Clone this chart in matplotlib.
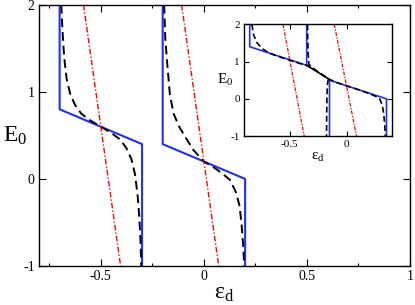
import matplotlib.pyplot as plt
from matplotlib.ticker import MultipleLocator

plt.rcParams["font.family"] = ["Liberation Serif", "DejaVu Serif"]
plt.rcParams["mathtext.fontset"] = "stix"

# main panel: sharp (blue) curves
blue1_eps = [-0.7, -0.7, -0.3, -0.3]
blue1_E = [2.0, 0.8, 0.4, -1.0]
blue2_eps = [-0.2, -0.2, 0.2, 0.2]
blue2_E = [2.0, 0.4, 0.0, -1.0]

# main panel: smooth (black dashed) curves
dash1_eps = [-0.692, -0.686, -0.678, -0.666, -0.648, -0.625, -0.595, -0.55,
             -0.5, -0.45, -0.405, -0.375, -0.352, -0.334, -0.322, -0.313,
             -0.307, -0.304]
dash1_E = [2.0, 1.7, 1.4, 1.15, 0.97, 0.85, 0.75, 0.67,
           0.6, 0.53, 0.45, 0.35, 0.23, 0.05, -0.18, -0.45,
           -0.75, -1.0]
dash2_eps = [-0.193, -0.187, -0.177, -0.165, -0.147, -0.12, -0.09, -0.05,
             0.0, 0.05, 0.09, 0.126, 0.155, 0.172, 0.182, 0.19, 0.196]
dash2_E = [2.0, 1.6, 1.3, 0.97, 0.75, 0.6, 0.48, 0.33,
           0.2, 0.13, 0.06, -0.01, -0.15, -0.3, -0.5, -0.75, -1.0]

# main panel: red dash-dot lines (end points)
red1_eps = [-0.584, -0.404]
red1_E = [2.0, -1.0]
red2_eps = [-0.108, 0.072]
red2_E = [2.0, -1.0]

# inset
in_blue1_eps = [-0.85, -0.85, -0.35, -0.35]
in_blue1_E = [2.0, 1.4, 0.9, 2.0]
in_blue2_eps = [-0.15, -0.15, 0.35, 0.35]
in_blue2_E = [-1.0, 0.5, 0.0, -1.0]

in_dashA_eps = [-0.831, -0.816, -0.787, -0.744, -0.686, -0.613, -0.5, -0.4,
                -0.35, -0.25, -0.16, -0.168, -0.172, -0.175, -0.176]
in_dashA_E = [2.0, 1.72, 1.51, 1.36, 1.24, 1.15, 1.04, 0.94,
              0.9, 0.72, 0.54, 0.4, 0.1, -0.5, -1.0]
in_dashB_eps = [-0.343, -0.341, -0.338, -0.334, -0.33, -0.25, -0.16, -0.1,
                0.0, 0.1, 0.2, 0.246, 0.29, 0.313, 0.325, 0.334, 0.34]
in_dashB_E = [2.0, 1.6, 1.3, 1.05, 0.92, 0.72, 0.54, 0.45,
              0.35, 0.25, 0.14, 0.08, 0.01, -0.17, -0.39, -0.66, -1.0]
in_mid_eps = [-0.35, -0.16]
in_mid_E = [0.9, 0.54]

in_red1_eps = [-0.558, -0.372]
in_red1_E = [2.0, -1.0]
in_red2_eps = [-0.108, 0.087]
in_red2_E = [2.0, -1.0]

BLUE = "#1f2fff"
DASH = (0, (4.5, 2.5))
DASHDOT = (0, (4, 1.5, 1, 1.5))


def style_axes(ax, size, major_len, minor=True):
    for sp in ax.spines.values():
        sp.set_linewidth(1.0)
    ax.tick_params(which="both", direction="in", top=True, right=True,
                   labelsize=size, width=0.8, pad=3)
    ax.tick_params(which="major", length=major_len)
    ax.tick_params(which="minor", length=major_len * 0.5)
    if minor:
        ax.xaxis.set_minor_locator(MultipleLocator(0.25))


def main():
    fig = plt.figure(figsize=(4.15, 3.05), dpi=100)

    ax = fig.add_axes([0.094, 0.128, 0.894, 0.856])
    ax.plot(blue1_eps, blue1_E, color=BLUE, lw=1.5)
    ax.plot(blue2_eps, blue2_E, color=BLUE, lw=1.5)
    ax.plot(dash1_eps, dash1_E, color="black", lw=1.4, ls=DASH)
    ax.plot(dash2_eps, dash2_E, color="black", lw=1.4, ls=DASH)
    ax.plot(red1_eps, red1_E, color="red", lw=1.0, ls=DASHDOT)
    ax.plot(red2_eps, red2_E, color="red", lw=1.0, ls=DASHDOT)
    ax.set_xlim(-0.8, 1.0)
    ax.set_ylim(-1, 2)
    ax.set_xticks([-0.5, 0, 0.5, 1])
    ax.set_xticklabels(["-0.5", "0", "0.5", "1"])
    ax.set_yticks([-1, 0, 1, 2])
    ax.set_yticklabels(["-1", "0", "1", "2"])
    style_axes(ax, 10, 5)
    ax.set_xlabel(r"$\mathregular{\varepsilon_d}$", fontsize=17, labelpad=0)
    ax.set_ylabel(r"$\mathregular{E_0}$", fontsize=17, rotation=0,
                  labelpad=6, va="center")

    ins = fig.add_axes([0.588, 0.554, 0.357, 0.366])
    ins.plot(in_blue1_eps, in_blue1_E, color=BLUE, lw=1.2)
    ins.plot(in_blue2_eps, in_blue2_E, color=BLUE, lw=1.2)
    ins.plot(in_dashA_eps, in_dashA_E, color="black", lw=1.2, ls=(0, (3.5, 2)))
    ins.plot(in_dashB_eps, in_dashB_E, color="black", lw=1.2, ls=(0, (3.5, 2)))
    ins.plot(in_mid_eps, in_mid_E, color="black", lw=1.2)
    ins.plot(in_red1_eps, in_red1_E, color="red", lw=0.9, ls=(0, (3, 1.2, 1, 1.2)))
    ins.plot(in_red2_eps, in_red2_E, color="red", lw=0.9, ls=(0, (3, 1.2, 1, 1.2)))
    ins.set_xlim(-0.9, 0.4)
    ins.set_ylim(-1, 2)
    ins.set_xticks([-0.5, 0])
    ins.set_xticklabels(["-0.5", "0"])
    ins.set_yticks([-1, 0, 1, 2])
    ins.set_yticklabels(["-1", "0", "1", "2"])
    style_axes(ins, 8, 3.5, minor=False)
    ins.set_xlabel(r"$\mathregular{\varepsilon_d}$", fontsize=11, labelpad=1)
    ins.set_ylabel(r"$\mathregular{E_0}$", fontsize=11, rotation=0,
                   labelpad=4, va="center")

    fig.savefig("out.png", dpi=100)
    plt.close(fig)


if __name__ == "__main__":
    main()
